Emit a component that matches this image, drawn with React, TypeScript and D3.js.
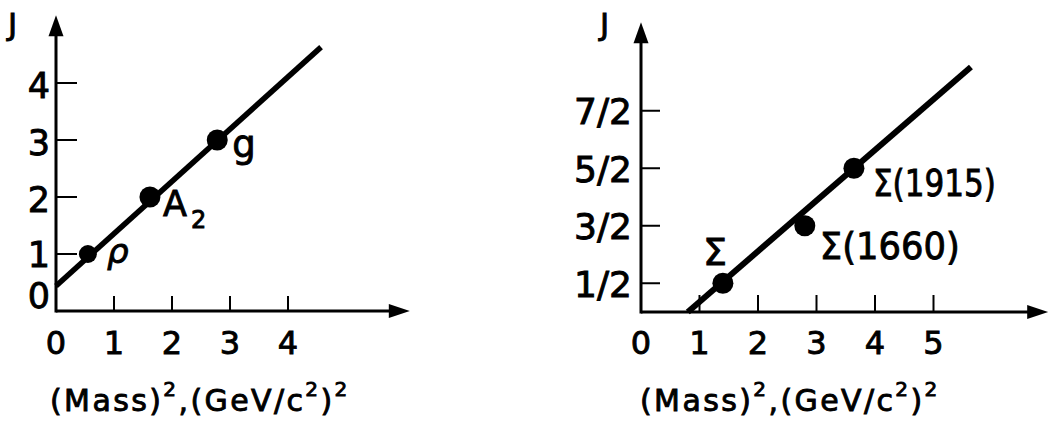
import React from "react";
import * as d3 from "d3";

// Meson trajectory (left): ρ, A2, g
const mesonNames = ["ρ", "A", "g"];
const mesonMassSq = [0.55, 1.62, 2.78];
const mesonSpin = [1, 2, 3];
const mesonLine: [number, number][] = [[0, 0.44], [4.57, 4.63]];
const mesonXTicks = [0, 1, 2, 3, 4];
const mesonYTicks = [0, 1, 2, 3, 4];

// Baryon trajectory (right): Σ, Σ(1660), Σ(1915)
const baryonNames = ["Σ", "Σ(1660)", "Σ(1915)"];
const baryonMassSq = [1.4, 2.8, 3.64];
const baryonSpin = [0.5, 1.5, 2.5];
const baryonLine: [number, number][] = [[0.8, 0], [5.64, 4.26]];
const baryonXTicks = [0, 1, 2, 3, 4, 5];
const baryonYTicks = [0.5, 1.5, 2.5, 3.5];
const baryonYLabels = ["1/2", "3/2", "5/2", "7/2"];

const FONT = "DejaVu Sans, sans-serif";
const INK = "#000";
// slightly heavier lettering
const TXT = { fontFamily: FONT, fill: INK, stroke: INK, strokeWidth: 0.9 };

function Title({ x, y }: { x: number; y: number }) {
  return (
    <text x={x} y={y} {...TXT} fontSize={30} letterSpacing={2.4}>
      (Mass)
      <tspan fontSize={20} dy={-15}>2</tspan>
      <tspan dy={15}>,(GeV/c</tspan>
      <tspan fontSize={20} dy={-15}>2</tspan>
      <tspan dy={15}>)</tspan>
      <tspan fontSize={20} dy={-15}>2</tspan>
    </text>
  );
}

function Axes({ x, y, xMax, yMax, xTicks, ticksY, tickLen, yTickLen }: any) {
  const x0 = x(0);
  const y0 = y(0);
  const xt = x(xMax);
  const yt = y(yMax);
  return (
    <g>
      <line x1={x0} y1={y0} x2={xt - 12} y2={y0} stroke={INK} strokeWidth={3} />
      <line x1={x0} y1={y0 + 1.5} x2={x0} y2={yt + 14} stroke={INK} strokeWidth={3} />
      <path d={`M${xt},${y0} L${xt - 21},${y0 - 7} L${xt - 21},${y0 + 7} Z`} fill={INK} />
      <path d={`M${x0},${yt} L${x0 - 7.5},${yt + 21} L${x0 + 7.5},${yt + 21} Z`} fill={INK} />
      {xTicks.filter((t: number) => t > 0).map((t: number) => (
        <line key={"xt" + t} x1={x(t)} x2={x(t)} y1={y0} y2={y0 - tickLen} stroke={INK} strokeWidth={2} />
      ))}
      {ticksY.filter((t: number) => t > 0).map((t: number) => (
        <line key={"yt" + t} x1={x0} x2={x0 + yTickLen} y1={y(t)} y2={y(t)} stroke={INK} strokeWidth={2} />
      ))}
    </g>
  );
}

export default function App() {
  // left panel scales
  const xL = d3.scaleLinear().domain([0, 1]).range([56, 114]);
  const yL = d3.scaleLinear().domain([0, 1]).range([311, 254]);
  // right panel scales
  const xR = d3.scaleLinear().domain([0, 1]).range([641, 699.5]);
  const yR = d3.scaleLinear().domain([0, 1]).range([312, 254.5]);

  const lineL = d3.line<[number, number]>().x((d) => xL(d[0])).y((d) => yL(d[1]));
  const lineR = d3.line<[number, number]>().x((d) => xR(d[0])).y((d) => yR(d[1]));

  return (
    <svg
      width={1049}
      height={431}
      style={{ position: "absolute", left: 0, top: 0, background: "#fff" }}
    >
      <rect width={1049} height={431} fill="#fff" />

      {/* ---------- meson panel ---------- */}
      <Axes x={xL} y={yL} xMax={6.1} yMax={5.19} xTicks={mesonXTicks} ticksY={mesonYTicks} tickLen={15} yTickLen={21} />
      <text x={8} y={35} {...TXT} fontSize={31}>J</text>
      {mesonYTicks.map((t) => (
        <text key={"ly" + t} x={39} y={t === 0 ? yL(t) - 15 : t === 1 ? yL(t) + 1 : yL(t) + 3} textAnchor="middle"
          dominantBaseline="central" {...TXT} fontSize={35}>{t}</text>
      ))}
      {mesonXTicks.map((t) => (
        <text key={"lx" + t} x={xL(t)} y={343} textAnchor="middle" dominantBaseline="central"
          {...TXT} fontSize={32}>{t}</text>
      ))}
      <path d={lineL(mesonLine) || ""} stroke={INK} strokeWidth={5.5} fill="none" />
      {mesonMassSq.map((m, i) => (
        <circle key={"md" + i} cx={xL(m)} cy={yL(mesonSpin[i])} r={i === 0 ? 9 : 10.5} fill={INK} />
      ))}
      <text x={xL(mesonMassSq[0]) + 19} y={yL(mesonSpin[0]) + 9} {...TXT} fontStyle="italic"
        fontSize={34}>{mesonNames[0]}</text>
      <text x={xL(mesonMassSq[1]) + 13} y={yL(mesonSpin[1]) + 19} {...TXT} fontSize={35}>
        {mesonNames[1]}
        <tspan fontSize={24} dx={4} dy={12}>2</tspan>
      </text>
      <text x={xL(mesonMassSq[2]) + 15} y={yL(mesonSpin[2]) + 17} {...TXT} fontSize={37}>
        {mesonNames[2]}
      </text>
      <Title x={50} y={411} />

      {/* ---------- baryon panel ---------- */}
      <Axes x={xR} y={yR} xMax={6.96} yMax={5.04} xTicks={baryonXTicks} ticksY={baryonYTicks} tickLen={17} yTickLen={19} />
      <text x={600} y={35} {...TXT} fontSize={31}>J</text>
      {baryonYTicks.map((t, i) => (
        <text key={"ry" + t} x={632} y={yR(t) + 1} textAnchor="end" dominantBaseline="central"
          {...TXT} fontSize={36}>{baryonYLabels[i]}</text>
      ))}
      {baryonXTicks.map((t) => (
        <text key={"rx" + t} x={xR(t)} y={343} textAnchor="middle" dominantBaseline="central"
          {...TXT} fontSize={32}>{t}</text>
      ))}
      <path d={lineR(baryonLine) || ""} stroke={INK} strokeWidth={6} fill="none" />
      {baryonMassSq.map((m, i) => (
        <circle key={"bd" + i} cx={xR(m)} cy={yR(baryonSpin[i])} r={10.5} fill={INK} />
      ))}
      <text x={xR(baryonMassSq[0]) - 20} y={yR(baryonSpin[0]) - 18} {...TXT} fontSize={38}>
        {baryonNames[0]}
      </text>
      <text x={xR(baryonMassSq[1]) + 15} y={yR(baryonSpin[1]) + 33} {...TXT} fontSize={38}
        textLength={140} lengthAdjust="spacingAndGlyphs">{baryonNames[1]}</text>
      <text x={xR(baryonMassSq[2]) + 19} y={yR(baryonSpin[2]) + 28} {...TXT} fontSize={38}
        textLength={123} lengthAdjust="spacingAndGlyphs">{baryonNames[2]}</text>
      <Title x={640} y={411} />
    </svg>
  );
}
